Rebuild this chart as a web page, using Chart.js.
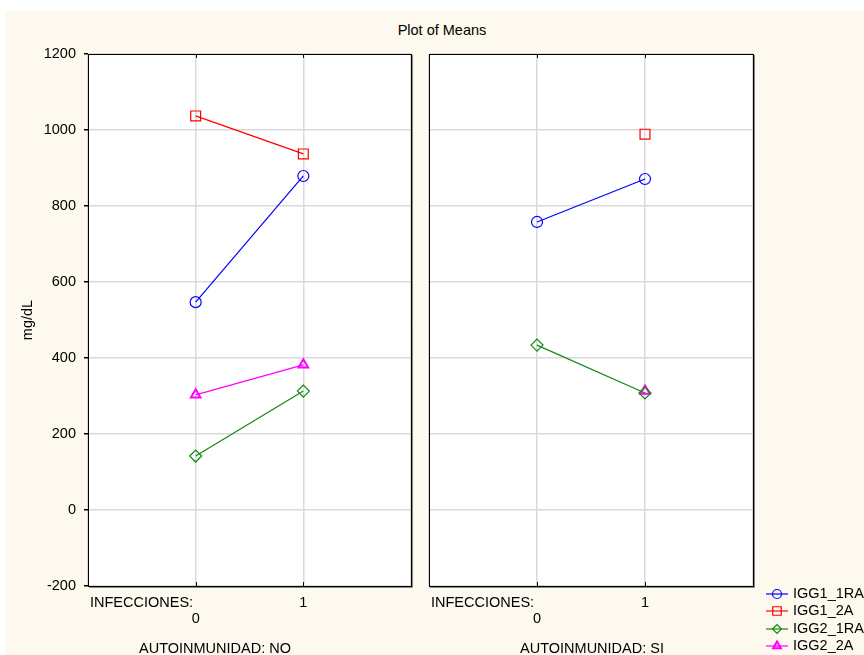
<!DOCTYPE html>
<html>
<head>
<meta charset="utf-8">
<script src="https://cdn.jsdelivr.net/npm/chart.js@4/dist/chart.umd.min.js"></script>
<style>
  html, body { margin:0; padding:0; background:#ffffff; }
  body { width:864px; height:655px; position:relative; overflow:hidden; font-family:"Liberation Sans", Arial, sans-serif; }
  #bg { position:absolute; left:5px; top:11px; width:859px; height:644px; background:#fef9ee; }
  #title { position:absolute; left:342px; width:200px; top:21px; text-align:center; font-size:14.5px; line-height:18px; color:#000; }
  #c1 { position:absolute; left:0; top:0; }
  #c2 { position:absolute; left:420px; top:0; }
</style>
</head>
<body>
<div id="bg"></div>
<div id="title">Plot of Means</div>
<canvas id="c1" width="420" height="655"></canvas>
<canvas id="c2" width="444" height="655"></canvas>
<script>
// ---- data ----
const categories = [0, 1];                 // INFECCIONES
const yTicks = [-200, 0, 200, 400, 600, 800, 1000, 1200];
const seriesNames = ['IGG1_1RA', 'IGG1_2A', 'IGG2_1RA', 'IGG2_2A'];
// AUTOINMUNIDAD: NO
const noIGG1_1RA = [547, 879];
const noIGG1_2A  = [1037, 937];
const noIGG2_1RA = [142, 313];
const noIGG2_2A  = [303, 382];
// AUTOINMUNIDAD: SI
const siIGG1_1RA = [758, 871];
const siIGG1_2A  = [null, 989];
const siIGG2_1RA = [434, 308];
const siIGG2_2A  = [null, 313];

const FONT = '"Liberation Sans", Arial, sans-serif';
const styles = [
  { color:'#0000ff', pointStyle:'circle',   radius:5.5, bw:1.2 },
  { color:'#ff0000', pointStyle:'rect',     radius:7,   bw:1.2 },
  { color:'#118811', pointStyle:'rectRot',  radius:6,   bw:1.2 },
  { color:'#ff00ff', pointStyle:'triangle', radius:5.5, bw:2 }
];

function mkDatasets(arrs) {
  return arrs.map((vals, i) => ({
    label: seriesNames[i],
    data: categories.map((c, j) => ({ x: c, y: vals[j] })),
    borderColor: styles[i].color,
    backgroundColor: 'rgba(0,0,0,0)',
    pointBorderColor: styles[i].color,
    pointBackgroundColor: 'rgba(0,0,0,0)',
    pointStyle: styles[i].pointStyle,
    pointRadius: styles[i].radius,
    pointBorderWidth: styles[i].bw,
    borderWidth: 1.2,
    spanGaps: false,
    clip: false
  }));
}

const panelPlugin = {
  id: 'panel',
  beforeDraw(chart) {
    const a = chart.chartArea, ctx = chart.ctx;
    ctx.save();
    ctx.fillStyle = '#ffffff';
    ctx.fillRect(a.left, a.top, a.right - a.left, a.bottom - a.top);
    ctx.restore();
  },
  afterDraw(chart, args, opts) {
    const a = chart.chartArea, ctx = chart.ctx;
    ctx.save();
    // frame with slight shadow
    ctx.strokeStyle = '#888888';
    ctx.lineWidth = 1;
    ctx.beginPath();
    ctx.moveTo(a.right + 1.5, a.top + 1); ctx.lineTo(a.right + 1.5, a.bottom + 1.5);
    ctx.lineTo(a.left + 1, a.bottom + 1.5);
    ctx.stroke();
    ctx.strokeStyle = '#000000';
    ctx.strokeRect(Math.round(a.left) + 0.5, Math.round(a.top) + 0.5,
                   Math.round(a.right - a.left), Math.round(a.bottom - a.top));
    // small inside tick marks at the category positions
    const xs = chart.scales.x;
    categories.forEach(c => {
      const px = Math.round(xs.getPixelForValue(c)) + 0.5;
      ctx.beginPath();
      ctx.moveTo(px, a.top); ctx.lineTo(px, a.top + 4);
      ctx.moveTo(px, a.bottom); ctx.lineTo(px, a.bottom - 4);
      ctx.stroke();
    });
    // bottom labels
    ctx.fillStyle = '#000';
    ctx.font = '14.5px ' + FONT;
    ctx.textBaseline = 'middle';
    ctx.textAlign = 'left';
    ctx.fillText('INFECCIONES:', a.left + 2, 603);
    ctx.textAlign = 'center';
    ctx.textBaseline = 'alphabetic';
    ctx.fillText(opts.group, (a.left + a.right) / 2 + opts.groupShift, 653);
    // legend
    if (opts.legend) {
      const rows = [594, 611, 629, 646];
      chart.data.datasets.forEach((ds, i) => {
        const y = rows[i];
        const x0 = a.right + 13, x1 = a.right + 35;
        ctx.strokeStyle = ds.borderColor;
        ctx.lineWidth = 1.2;
        ctx.beginPath(); ctx.moveTo(x0, y); ctx.lineTo(x1, y); ctx.stroke();
        ctx.fillStyle = 'rgba(0,0,0,0)';
        ctx.strokeStyle = ds.pointBorderColor;
        ctx.lineWidth = ds.pointBorderWidth;
        Chart.helpers.drawPoint(ctx, {
          pointStyle: ds.pointStyle,
          radius: ds.pointStyle === 'rect' ? 6 : 4.5,
          borderWidth: ds.pointBorderWidth,
          rotation: 0
        }, (x0 + x1) / 2, y);
        ctx.fillStyle = '#000';
        ctx.font = '14.5px ' + FONT;
        ctx.textAlign = 'left';
        ctx.textBaseline = 'middle';
        ctx.fillText(ds.label, a.right + 40, y);
      });
    }
    ctx.restore();
  }
};

function mkOptions(isLeft) {
  return {
    responsive: false,
    animation: false,
    events: [],
    layout: { padding: isLeft ? { top:54, right:8, left:0, bottom:0 } : { top:54, right:111, left:8, bottom:0 } },
    plugins: {
      legend: { display:false },
      tooltip: { enabled:false },
      panel: isLeft ? { group:'AUTOINMUNIDAD: NO', groupShift:-34.5, legend:false }
                    : { group:'AUTOINMUNIDAD: SI', groupShift:1, legend:true }
    },
    scales: {
      x: {
        type:'linear', min:-1, max:2,
        afterFit(s) { s.height = 69; },
        afterBuildTicks(s) { s.ticks = [-1, 0, 1, 2].map(v => ({ value:v })); },
        grid: { color:'#d9d9d9', lineWidth:1.5, drawTicks:false },
        border: { display:false },
        ticks: {
          padding: 9,
          autoSkip: false,
          maxRotation: 0,
          color:'#000',
          font: { family: FONT, size:14.5, lineHeight:1.1 },
          callback(v) { return v === 0 ? ['', '0'] : (v === 1 ? '1' : ''); }
        }
      },
      y: {
        type:'linear', min:-200, max:1200,
        afterFit(s) { s.width = isLeft ? 88 : 0; },
        afterBuildTicks(s) { s.ticks = yTicks.map(v => ({ value:v })); },
        grid: { color:'#d9d9d9', lineWidth:1.5, drawTicks:isLeft, tickLength:4, tickColor:'#000' },
        border: { display:false },
        title: { display:isLeft, text:'mg/dL', color:'#000', padding:{ top:19.3, bottom:0 },
                 font: { family: FONT, size:14.5, lineHeight:1.2 } },
        ticks: { display:isLeft, padding:8, color:'#000', font:{ family: FONT, size:14.5 },
                 callback(v) { return String(v); } }
      }
    }
  };
}

new Chart(document.getElementById('c1'), {
  type:'line',
  data: { datasets: mkDatasets([noIGG1_1RA, noIGG1_2A, noIGG2_1RA, noIGG2_2A]) },
  options: mkOptions(true),
  plugins: [panelPlugin]
});
new Chart(document.getElementById('c2'), {
  type:'line',
  data: { datasets: mkDatasets([siIGG1_1RA, siIGG1_2A, siIGG2_1RA, siIGG2_2A]) },
  options: mkOptions(false),
  plugins: [panelPlugin]
});
</script>
</body>
</html>
